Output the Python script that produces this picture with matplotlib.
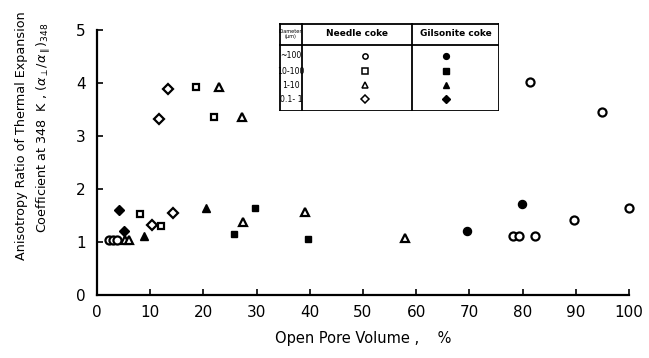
import matplotlib
matplotlib.use("Agg")
import matplotlib.pyplot as plt
from matplotlib.lines import Line2D

plt.rcParams['font.family'] = ['DejaVu Sans']

# Open pore volume (%) and anisotropy ratio for each coke / particle-size class
needle_100_x = [2.3, 3.0, 3.8, 78.2, 79.3, 82.4, 89.7, 100.0, 95.0, 81.3]
needle_100_y = [1.03, 1.03, 1.03, 1.12, 1.12, 1.12, 1.42, 1.64, 3.45, 4.01]
needle_10_100_x = [8.1, 12.0, 18.7, 22.0]
needle_10_100_y = [1.53, 1.31, 3.93, 3.35]
needle_1_10_x = [5.3, 6.1, 23.0, 27.3, 27.5, 39.1, 57.9]
needle_1_10_y = [1.03, 1.03, 3.93, 3.35, 1.38, 1.56, 1.07]
needle_01_1_x = [10.3, 14.3, 11.7, 13.3]
needle_01_1_y = [1.33, 1.54, 3.32, 3.89]

gils_100_x = [69.5, 79.9]
gils_100_y = [1.21, 1.72]
gils_10_100_x = [25.8, 29.7, 39.7]
gils_10_100_y = [1.15, 1.65, 1.06]
gils_1_10_x = [8.9, 20.5]
gils_1_10_y = [1.11, 1.64]
gils_01_1_x = [4.2, 5.1]
gils_01_1_y = [1.60, 1.21]

size_classes = ["~100", "10-100", "1-10", "0.1- 1"]
class_markers = ["o", "s", "^", "D"]
x_ticks = [0, 10, 20, 30, 40, 50, 60, 70, 80, 90, 100]
y_ticks = [0, 1, 2, 3, 4, 5]

W, H = 649, 358
fig = plt.figure(figsize=(W / 100, H / 100), dpi=100)
ax = fig.add_axes([97 / W, (H - 295) / H, 532 / W, 265 / H])

needle = [(needle_100_x, needle_100_y), (needle_10_100_x, needle_10_100_y),
          (needle_1_10_x, needle_1_10_y), (needle_01_1_x, needle_01_1_y)]
gils = [(gils_100_x, gils_100_y), (gils_10_100_x, gils_10_100_y),
        (gils_1_10_x, gils_1_10_y), (gils_01_1_x, gils_01_1_y)]
sizes = [5.8, 5.0, 6.2, 5.2]

for (xs, ys), m, ms in zip(needle, class_markers, sizes):
    ax.plot(xs, ys, linestyle="none", marker=m, markersize=ms,
            markerfacecolor="white", markeredgecolor="black",
            markeredgewidth=1.6, clip_on=False)
for (xs, ys), m, ms in zip(gils, class_markers, sizes):
    ax.plot(xs, ys, linestyle="none", marker=m, markersize=ms,
            markerfacecolor="black", markeredgecolor="black",
            markeredgewidth=1.0, clip_on=False)

ax.set_xlim(0, 100)
ax.set_ylim(0, 5)
ax.set_xticks(x_ticks)
ax.set_yticks(y_ticks)
for s in ["top", "right"]:
    ax.spines[s].set_visible(False)
for s in ["left", "bottom"]:
    ax.spines[s].set_linewidth(1.6)
ax.tick_params(direction="in", length=4, width=1.2, labelsize=11, pad=7)
ax.tick_params(axis="y", pad=8)

ax.set_xlabel("Open Pore Volume ,    %", fontsize=10.5, labelpad=8)

fig.text(22 / W, (H - 136) / H, "Anisotropy Ratio of Thermal Expansion",
         rotation=90, ha="center", va="center", fontsize=9.2)
fig.text(43 / W, (H - 128) / H,
         r"Coefficient at 348  K , $(\alpha_{\perp}/\alpha_{\parallel})_{348}$",
         rotation=90, ha="center", va="center", fontsize=9.2)

# Symbol key drawn as a small ruled table
tb = fig.add_axes([279 / W, (H - 111) / H, 220 / W, 88 / H])
tb.set_xlim(0, 220)
tb.set_ylim(88, 0)
tb.axis("off")
lw = 1.3
for xa, xb, y in [(0, 220, 0.5), (0, 220, 87.5), (0, 220, 22)]:
    tb.add_line(Line2D([xa, xb], [y, y], color="black", lw=lw))
for x in [0.5, 219.5, 23, 133]:
    tb.add_line(Line2D([x, x], [0, 88], color="black", lw=lw))

tb.text(11.5, 11, "Diameter\n(\u03bcm)", ha="center", va="center",
        fontsize=3.6, linespacing=1.0)
tb.text(78, 11, "Needle coke", ha="center", va="center", fontsize=6.5,
        fontweight="bold")
tb.text(176.5, 11, "Gilsonite coke", ha="center", va="center", fontsize=6.5,
        fontweight="bold")

row_y = [33, 48, 62, 76]
for y, lab, m in zip(row_y, size_classes, class_markers):
    tb.text(12, y, lab, ha="center", va="center", fontsize=5.6)
    tb.plot([86], [y], linestyle="none", marker=m, markersize=3.8,
            markerfacecolor="white", markeredgecolor="black",
            markeredgewidth=1.1)
    tb.plot([167], [y], linestyle="none", marker=m, markersize=4.2,
            markerfacecolor="black", markeredgecolor="black")

fig.savefig("out.png", dpi=100)
